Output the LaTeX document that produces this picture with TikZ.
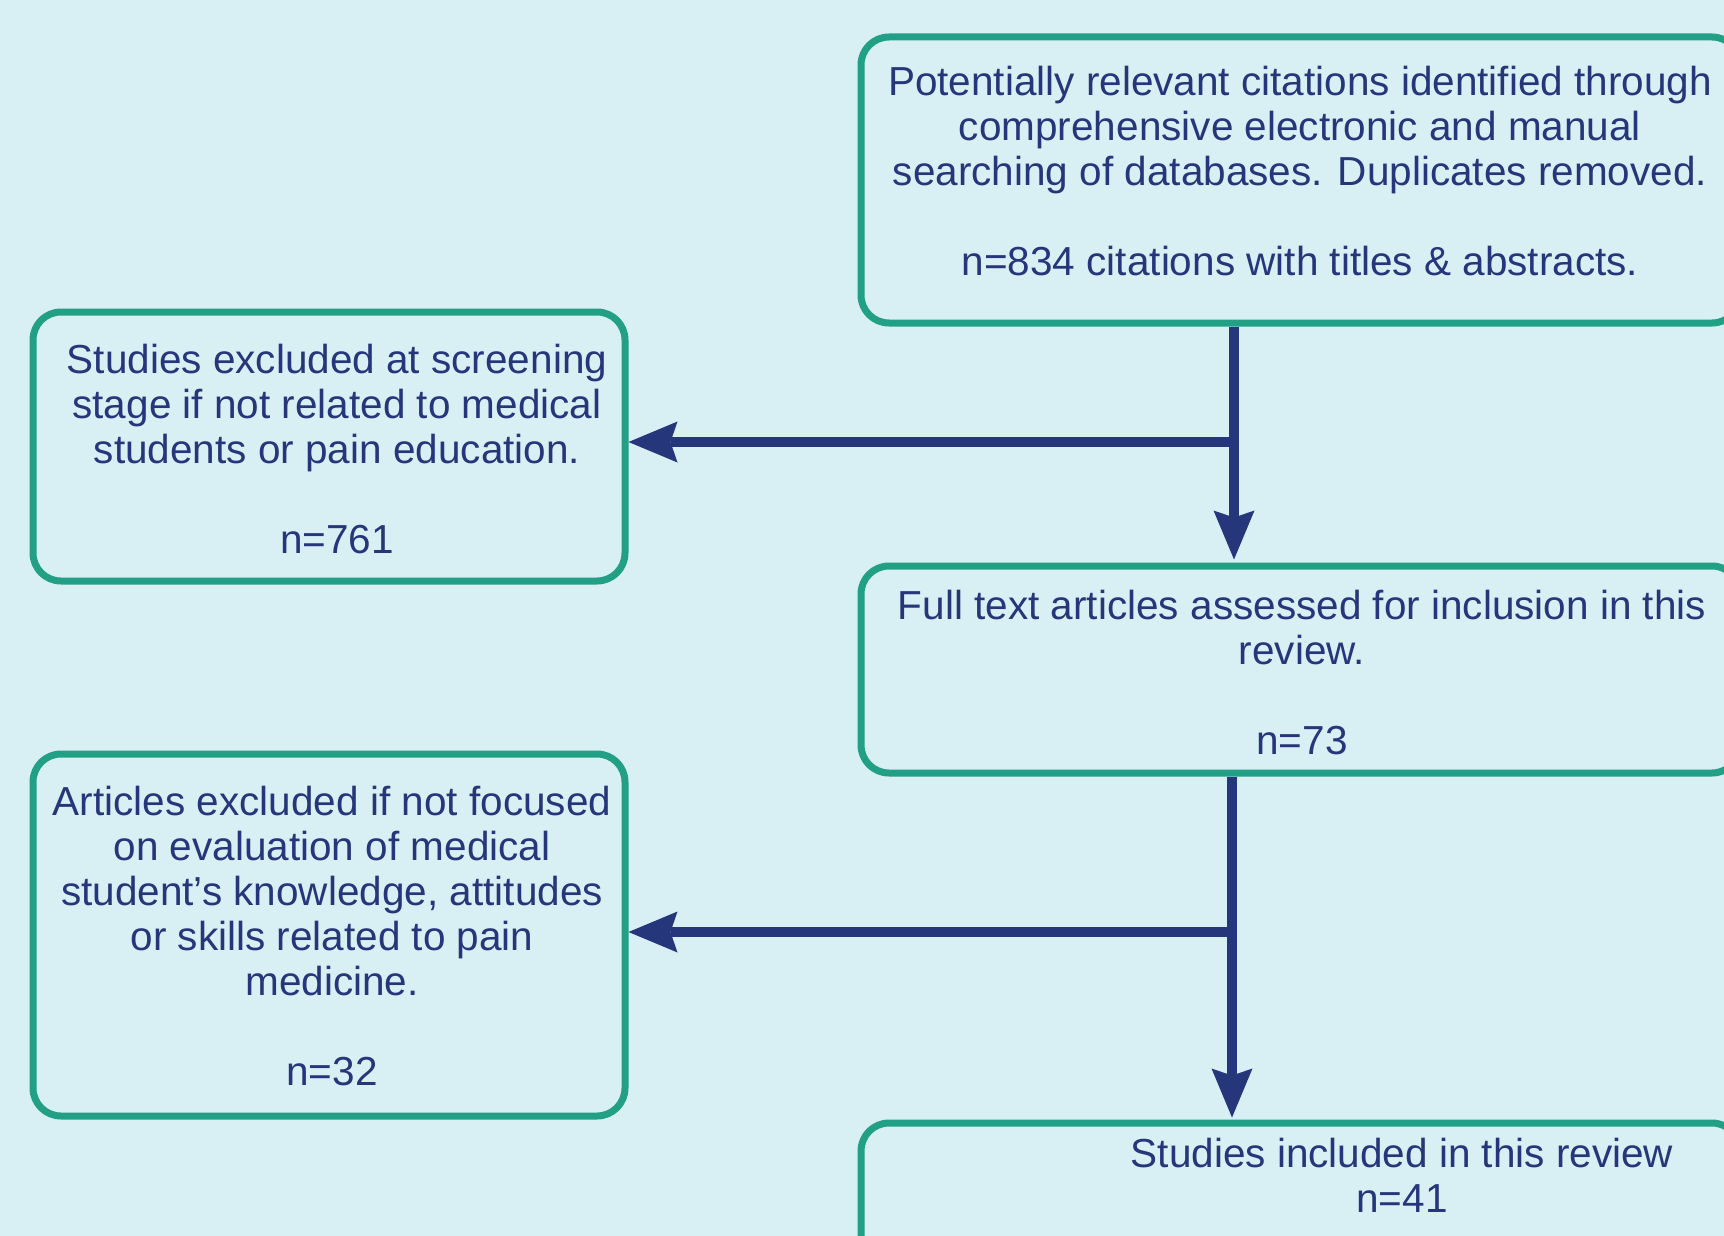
\documentclass[tikz,border=0pt]{standalone}
\usepackage{fontspec}
\setmainfont{Liberation Sans}
\usetikzlibrary{arrows.meta}
\definecolor{bgc}{RGB}{216,239,243}
\definecolor{grn}{RGB}{33,160,133}
\definecolor{navy}{RGB}{38,54,122}
\newcommand\tstrut{\rule{0pt}{32pt}}
\begin{document}
\begin{tikzpicture}[x=1pt,y=-1pt,
  boxstyle/.style={draw=grn, line width=7pt, rounded corners=28pt, inner sep=0pt, rectangle},
  txt/.style={text=navy, align=center, inner sep=0pt, anchor=north, font=\fontsize{40.5}{45}\selectfont},
  flow/.style={draw=navy, line width=10pt, -{Stealth[length=49pt,width=41pt,inset=7pt,line width=0pt]}}]
\useasboundingbox (0,0) rectangle (1724,1236);
\fill[bgc] (0,0) rectangle (1724,1236);
\clip (0,0) rectangle (1724,1236);

% boxes
\node[boxstyle, minimum width=879pt, minimum height=286pt] (box1) at (1300.5,180) {};
\node[boxstyle, minimum width=592pt, minimum height=269pt] (box2) at (329,446.5) {};
\node[boxstyle, minimum width=879pt, minimum height=207pt] (box3) at (1300.5,669.5) {};
\node[boxstyle, minimum width=592pt, minimum height=362pt] (box4) at (329,935) {};
\node[boxstyle, minimum width=879pt, minimum height=207pt] (box5) at (1300.5,1226.5) {};

% texts
\node[txt] (t1) at (1300,63) {\tstrut Potentially relevant citations identified through\\comprehensive electronic and manual\\searching of databases. Duplicates removed.\\[45pt]n=834 citations with titles \& abstracts.};
\node[txt] (t2) at (337,341) {\tstrut Studies excluded at screening\\stage if not related to medical\\students or pain education.\\[45pt]n=761};
\node[txt] (t3) at (1302,587) {\tstrut Full text articles assessed for inclusion in this\\review.\\[45pt]n=73};
\node[txt] (t4) at (332,783) {\tstrut Articles excluded if not focused\\on evaluation of medical\\student’s knowledge, attitudes\\or skills related to pain\\medicine.\\[45pt]n=32};
\node[txt] (t5) at (1402,1135) {\tstrut Studies included in this review\\n=41};

% connectors
\coordinate (j1) at (1234,442);
\coordinate (j2) at (1232,932);
\draw[flow, shorten >=3pt] (box1.south -| j1) -- (box3.north -| j1);
\draw[flow] (j1) -- (box2.east |- j1);
\draw[flow, shorten >=2pt] (box3.south -| j2) -- (box5.north -| j2);
\draw[flow] (j2) -- (box4.east |- j2);
\end{tikzpicture}
\end{document}
